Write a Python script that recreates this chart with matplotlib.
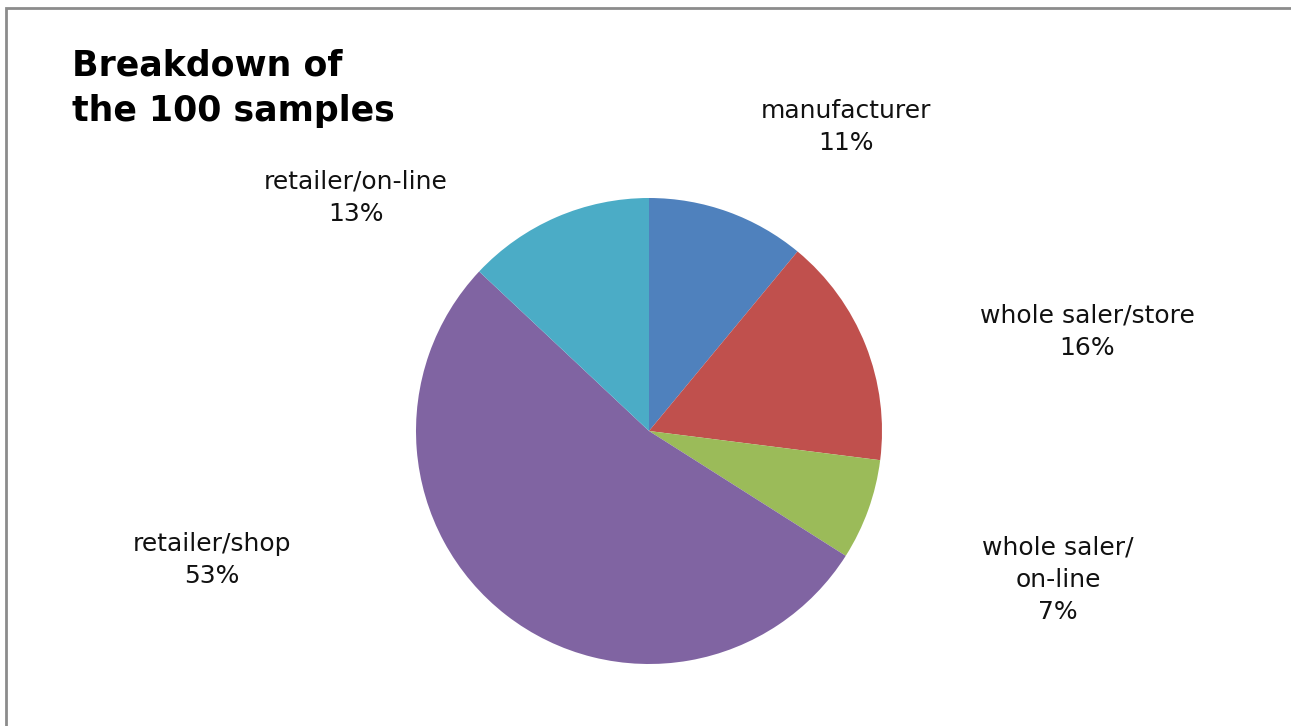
import matplotlib

matplotlib.use("Agg")
import matplotlib.pyplot as plt

# Sample breakdown by source
labels = ["manufacturer", "whole saler/store", "whole saler/\non-line", "retailer/shop", "retailer/on-line"]
shares = [11, 16, 7, 53, 13]
colors = ["#4F81BD", "#C0504D", "#9BBB59", "#8064A2", "#4BACC6"]

# label anchor points (figure pixels from top-left)
label_pos = [(846, 127), (1087, 332), (1058, 580), (212, 560), (356, 198)]

W, H = 1291, 726
fig = plt.figure(figsize=(W / 100, H / 100), dpi=100)
fig.patch.set_facecolor("white")

# frame around the chart area
frame = plt.Rectangle((6 / W, -0.01), 1.2, (H - 8) / H + 0.01, transform=fig.transFigure,
                      fill=False, edgecolor="#8c8c8c", lw=2.0)
fig.add_artist(frame)

cx, cy, r = 649, 431, 233
ax = fig.add_axes([(cx - r) / W, (H - cy - r) / H, 2 * r / W, 2 * r / H])
ax.pie(shares, colors=colors, startangle=90, counterclock=False, radius=1.0,
       wedgeprops={"linewidth": 0})
ax.set_xlim(-1, 1)
ax.set_ylim(-1, 1)
ax.set_aspect("equal")
ax.axis("off")

for lab, val, (px, py) in zip(labels, shares, label_pos):
    fig.text(px / W, 1 - py / H, f"{lab}\n{val}%", ha="center", va="center",
             fontsize=18, color="#111111", linespacing=1.43, family="DejaVu Sans")

fig.text(72 / W, 1 - 88 / H, "Breakdown of\nthe 100 samples", ha="left", va="center",
         fontsize=25, fontweight="bold", color="black", linespacing=1.42)

fig.savefig("out.png", dpi=100)
